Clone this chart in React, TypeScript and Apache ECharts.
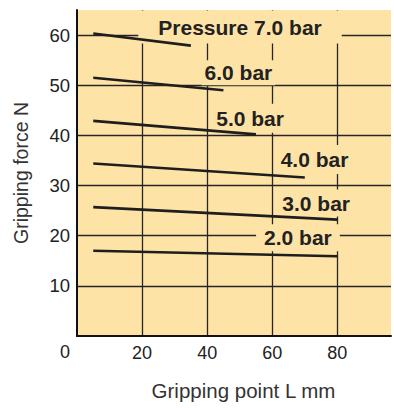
import React, { useEffect, useRef } from "react";
import * as echarts from "echarts";

const xTicks = [0, 20, 40, 60, 80];
const yTicks = [10, 20, 30, 40, 50, 60];

const pressureNames = ["7.0 bar", "6.0 bar", "5.0 bar", "4.0 bar", "3.0 bar", "2.0 bar"];
const lineStartX = [5, 5, 5, 5, 5, 5];
const lineEndX = [35, 45, 55, 70, 80, 80];
const lineStartY = [60.3, 51.5, 42.9, 34.4, 25.7, 17.0];
const lineEndY = [57.9, 49.0, 40.2, 31.6, 23.2, 15.9];

const labelTexts = ["Pressure 7.0 bar", "6.0 bar", "5.0 bar", "4.0 bar", "3.0 bar", "2.0 bar"];
const labelX = [50.1, 49.6, 53.2, 73.0, 73.5, 67.9];
const labelY = [61.6, 52.5, 43.4, 35.2, 26.5, 19.6];

const FILL = "#FEE3A7";
const INK = "#222222";
const FONT = "'Liberation Sans', Arial, sans-serif";

export default function App() {
  const ref = useRef<HTMLDivElement>(null);
  useEffect(() => {
    if (!ref.current) return;
    const chart = echarts.init(ref.current, null, { renderer: "svg" });
    const lineSeries = pressureNames.map((name, i) => ({
      type: "line",
      name,
      data: [
        [lineStartX[i], lineStartY[i]],
        [lineEndX[i], lineEndY[i]],
      ],
      symbol: "none",
      lineStyle: { color: "#1e1e1e", width: 2.6 },
      z: 4,
    }));
    const paddings = [
      [7, 20, 5, 20],
      [2, 3, 2, 3],
      [4, 4, 4, 4],
      [4, 4, 4, 4],
      [3, 4, 3, 4],
      [3, 8, 3, 8],
    ];
    const labelSeries = {
      type: "scatter",
      symbolSize: 0,
      z: 2,
      silent: true,
      itemStyle: { opacity: 1 },
      data: labelTexts.map((t, i) => ({
        value: [labelX[i], labelY[i]],
        itemStyle: { opacity: 1 },
        label: {
          show: true,
          position: "inside",
          formatter: t,
          color: INK,
          opacity: 1,
          fontSize: 21,
          fontWeight: "bold",
          fontFamily: FONT,
          textBorderWidth: 0,
          textBorderColor: "transparent",
          backgroundColor: FILL,
          padding: paddings[i],
        },
      })),
    };
    const gridLine = { color: "#262626", width: 1.3, type: "solid" };
    chart.setOption({
      animation: false,
      grid: {
        left: 77,
        top: 10,
        right: 0,
        bottom: 72,
        show: true,
        backgroundColor: FILL,
        borderWidth: 0,
      },
      xAxis: {
        type: "value",
        min: 0,
        max: 96.5,
        interval: 20,
        axisLine: { show: true, lineStyle: { color: "#111", width: 2 } },
        axisTick: { show: false },
        axisLabel: {
          color: INK,
          fontSize: 18,
          fontFamily: FONT,
          margin: 8,
          formatter: (v: number) => (xTicks.includes(v) && v !== 0 ? String(v) : ""),
        },
        splitLine: { show: true, showMinLine: false, showMaxLine: false, lineStyle: gridLine },
        name: "Gripping point L mm",
        nameLocation: "middle",
        nameGap: 44,
        nameTextStyle: { color: "#333", fontSize: 20.5, fontFamily: FONT, padding: [0, 0, 0, 19] },
      },
      yAxis: {
        type: "value",
        min: 0,
        max: 65,
        interval: 10,
        axisLine: { show: true, lineStyle: { color: "#111", width: 2 } },
        axisTick: { show: false },
        axisLabel: {
          color: INK,
          fontSize: 18.5,
          fontFamily: FONT,
          margin: 7,
          formatter: (v: number) => (yTicks.includes(v) ? String(v) : ""),
        },
        splitLine: { show: true, showMinLine: false, showMaxLine: false, lineStyle: gridLine },
        name: "Gripping force N",
        nameLocation: "middle",
        nameGap: 46,
        nameTextStyle: { color: "#333", fontSize: 19.5, fontFamily: FONT },
      },
      graphic: [
        {
          type: "text",
          left: 60,
          top: 343,
          style: { text: "0", fill: INK, fontSize: 18, fontFamily: FONT },
        },
      ],
      series: [...lineSeries, labelSeries],
    });
    return () => chart.dispose();
  }, []);
  return (
    <div
      ref={ref}
      style={{ position: "absolute", left: 0, top: 0, width: 394, height: 408 }}
    />
  );
}
